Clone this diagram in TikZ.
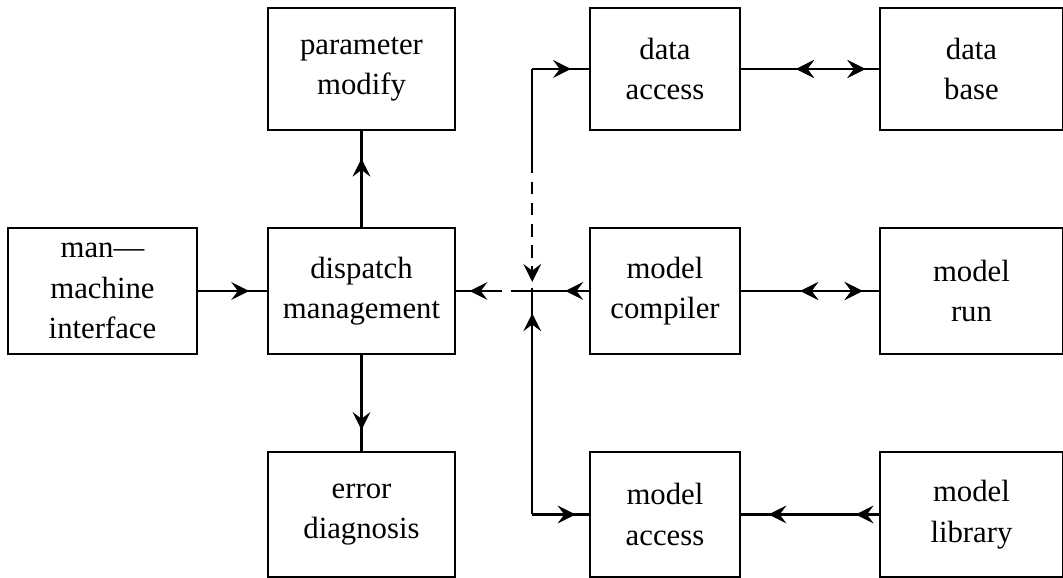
\documentclass[tikz,border=0pt]{standalone}
\usepackage{fontspec}
\setmainfont{Liberation Serif}
\usetikzlibrary{calc,decorations.markings}
\tikzset{>=stealth}
\tikzset{
  block/.style={draw,line width=0.9pt,align=center,inner sep=0pt,
    font=\fontsize{17.5}{23}\selectfont},
  link/.style={line width=1.2pt},
  tipat/.style={decoration={markings,mark=at position #1 with {\arrow[scale=2]{stealth}}},postaction={decorate}},
  tipback/.style={decoration={markings,mark=at position #1 with {\arrowreversed[scale=2]{stealth}}},postaction={decorate}},
  tiptwo/.style 2 args={decoration={markings,
      mark=at position #1 with {\arrow[scale=2]{stealth}},
      mark=at position #2 with {\arrow[scale=2]{stealth}}},postaction={decorate}}
}

\begin{document}
\begin{tikzpicture}
      \useasboundingbox (0,0) rectangle (21.26,11.56);

      % left part
      \node[block,minimum width=3.78cm,minimum height=2.52cm] (mmi) at (2.05,5.74) {man---\\machine\\interface};
      \node[block,minimum width=3.74cm,minimum height=2.52cm] (disp) at (7.23,5.74) {dispatch\\management};
      \node[block,minimum width=3.74cm,minimum height=2.44cm] (param) at (7.23,10.18) {parameter\\modify};
      \node[block,minimum width=3.74cm,minimum height=2.5cm] (error) at (7.23,1.27) {error\\diagnosis};

      % right part
      \node[block,minimum width=3.0cm,minimum height=2.44cm] (dacc) at (13.3,10.18) {data\\access};
      \node[block,minimum width=3.66cm,minimum height=2.44cm] (dbase) at (19.43,10.18) {data\\base};
      \node[block,minimum width=3.0cm,minimum height=2.52cm] (comp) at (13.3,5.74) {model\\compiler};
      \node[block,minimum width=3.66cm,minimum height=2.52cm] (mrun) at (19.43,5.74) {model\\run};
      \node[block,minimum width=3.0cm,minimum height=2.5cm] (macc) at (13.3,1.27) {model\\access};
      \node[block,minimum width=3.66cm,minimum height=2.5cm] (mlib) at (19.43,1.27) {model\\library};

      \coordinate (jn) at ($(comp.west)+(-1.14,0)$);
      \coordinate (jtop) at (jn |- dacc.west);
      \coordinate (jbot) at (jn |- macc.west);
      \coordinate (jdash) at ($(jn)+(0,2.6)$);

      \draw[link,tipat=0.74] (mmi.east) -- (disp.west);
      \draw[link,tipat=0.71] (disp.north) -- (param.south);
      \draw[link,tipat=0.78] (disp.south) -- (error.north);

      \draw[link,dash pattern=on 12pt off 5pt,tipat=0.82] (jn) -- (disp.east);
      \draw[link,tipat=0.42] (comp.west) -- (jn);

      \draw[link] (jtop) -- (jdash);
      \draw[link,dash pattern=on 7pt off 5pt,tipat=0.93] (jdash) -- (jn);
      \draw[link,tipat=0.9] (jbot) -- (jn);
      \draw[link,tipat=0.68] (jtop) -- (dacc.west);
      \draw[link,tipat=0.76] (jbot) -- (macc.west);

      \draw[link,tipback=0.4,tipat=0.9] (dacc.east) -- (dbase.west);
      \draw[link,tipback=0.43,tipat=0.88] (comp.east) -- (mrun.west);
      \draw[link,tiptwo={0.17}{0.8}] (mlib.west) -- (macc.east);
    \end{tikzpicture}
\end{document}
